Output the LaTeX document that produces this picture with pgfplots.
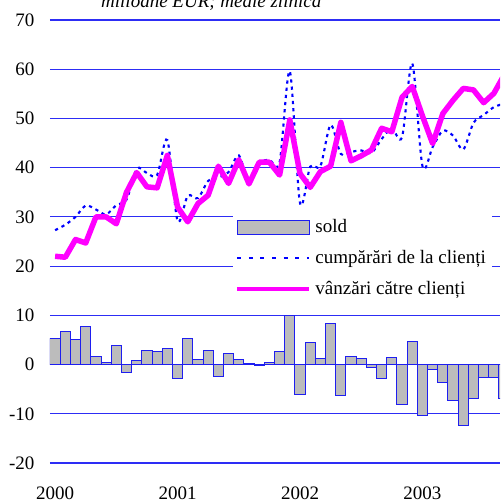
\documentclass[border=0pt]{standalone}
\usepackage{pgfplots}
\usepackage{pgfplotstable}
\pgfplotsset{compat=1.18}
\usepackage{fontspec}
\setmainfont{Liberation Serif}
\definecolor{gridblue}{RGB}{45,45,245}
\definecolor{barfill}{RGB}{188,188,188}
\definecolor{barline}{RGB}{30,30,240}
\definecolor{buyblue}{RGB}{0,0,255}
\definecolor{sellmag}{RGB}{255,0,255}

\pgfplotstableread{
i sold buy sell
0 5.2 27.3 22.0
1 6.8 28.4 21.8
2 5.1 30.0 25.4
3 7.8 32.3 24.7
4 1.55 31.5 30.0
5 0.5 30.5 30.0
6 3.85 32.4 28.6
7 -1.7 33.5 35.0
8 0.9 39.8 39.0
9 2.8 38.9 36.1
10 2.7 38.5 35.9
11 3.2 45.6 42.5
12 -2.8 29.2 32.0
13 5.3 34.3 29.0
14 1.1 33.8 32.7
15 2.8 37.3 34.4
16 -2.4 38.0 40.3
17 2.2 39.1 36.8
18 0.95 42.5 41.6
19 0.3 37.0 36.7
20 -0.2 40.9 41.1
21 0.5 41.6 41.1
22 2.6 41.1 38.5
23 9.9 59.6 49.7
24 -6.0 32.8 38.8
25 4.4 40.2 36.0
26 1.15 40.3 39.2
27 8.4 48.7 40.3
28 -6.35 42.8 49.2
29 1.7 43.2 41.4
30 1.15 43.5 42.4
31 -0.7 43.0 43.6
32 -2.8 45.8 48.0
33 1.5 48.0 47.3
34 -8.2 46.2 54.3
35 4.7 61.2 56.5
36 -10.4 40.3 50.5
37 -1.1 44.2 44.9
38 -3.65 47.5 51.0
39 -7.3 46.5 53.7
40 -12.4 43.7 56.1
41 -6.8 49.1 55.8
42 -2.6 50.7 53.2
43 -2.7 52.3 55.1
44 -6.8 53.0 58.8
}\datatable

\begin{document}
\begin{tikzpicture}
\begin{axis}[
  scale only axis, width=225pt, height=221.5pt,
  xmin=-0.5, xmax=43.6, ymin=-20, ymax=70,
  axis line style={draw=none},
  major tick length=0pt,
  ytick={-20,-10,...,70},
  yticklabels={-20,-10,0,10,20,30,40,50,60,70},
  xtick={0,12,24,36}, xticklabels={2000,2001,2002,2003},
  ymajorgrids, grid style={gridblue, line width=0.55pt},
  tick label style={font=\fontsize{9.5}{11}\selectfont},
  yticklabel style={xshift=-4.3pt},
  xticklabel style={yshift=-8.6pt},
  legend style={at={(axis cs:17.4,31.2)}, anchor=north west, draw=none, fill=white,
    font=\fontsize{9.5}{11}\selectfont, inner xsep=1pt, inner ysep=2pt,
    row sep=3.3pt, cells={anchor=west, inner xsep=1.9pt}},
]
\addplot[ybar, bar width=1, fill=barfill, draw=barline, line width=0.5pt,
  legend image code/.code={\draw[fill=barfill, draw=barline, line width=0.5pt] (0pt,-3.5pt) rectangle (36pt,3.5pt);}]
  table[x=i,y=sold]{\datatable};
\addlegendentry{sold}
\addplot[smooth, buyblue, line width=1.05pt, dash pattern=on 1.6pt off 2pt,
  legend image code/.code={\draw[buyblue, line width=1.05pt, dash pattern=on 2pt off 3.8pt] (0pt,0pt) -- (36pt,0pt);}]
  table[x=i,y=buy]{\datatable};
\addlegendentry{cumpărări de la clienți}
\addplot[sellmag, line width=2.75pt, line join=round,
  legend image code/.code={\draw[sellmag, line width=2.2pt] (0pt,0pt) -- (36pt,0pt);}]
  table[x=i,y=sell]{\datatable};
\addlegendentry{vânzări către clienți}
\coordinate (bl) at (rel axis cs:0,0);
\coordinate (tr) at (rel axis cs:1,1);
\coordinate (ttl) at (axis cs:15.3,70);
\end{axis}
\node[font=\itshape\fontsize{9.5}{11}\selectfont, anchor=base, yshift=6pt] at (ttl) {milioane EUR; medie zilnică};
\pgfresetboundingbox
\path[use as bounding box] ([xshift=-25pt,yshift=-20pt]bl) rectangle ([yshift=10pt]tr);
\end{tikzpicture}
\end{document}
